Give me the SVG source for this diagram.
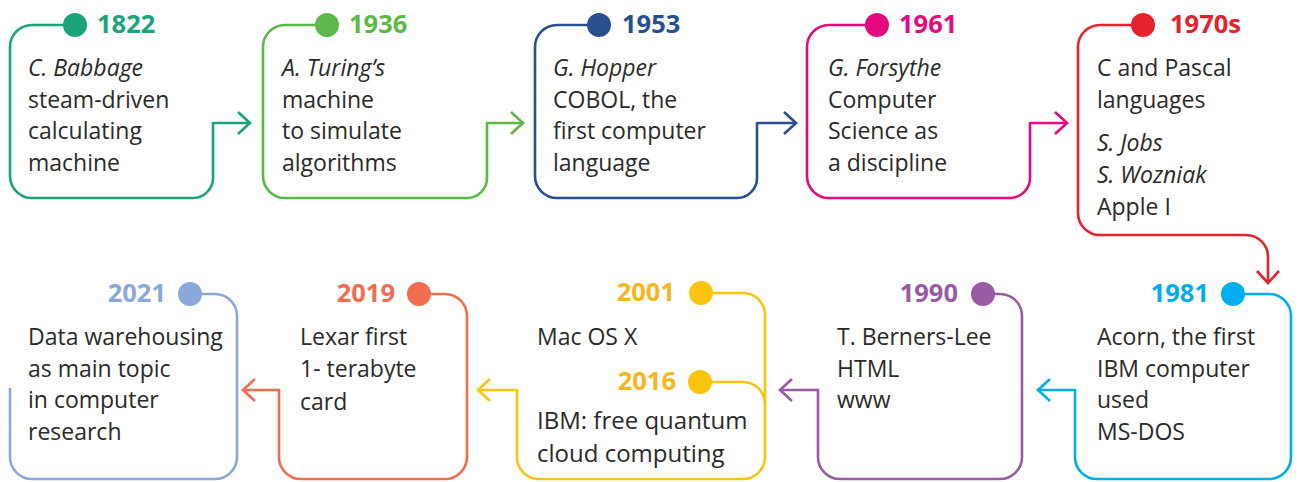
<svg xmlns="http://www.w3.org/2000/svg" width="1298" height="482" viewBox="0 0 1298 482">
<style>
.ln{fill:none;stroke-width:2.6;stroke-linecap:round;stroke-linejoin:round}
.yr{font-family:"Open Sans","Liberation Sans",sans-serif;font-weight:bold;font-size:25.5px}
.tx{font-family:"Open Sans","Liberation Sans",sans-serif;font-size:23px;fill:#2b2a29}
.it{font-style:italic}
</style>
<defs>
<marker id="aG1" viewBox="-14 -13 16 26" refX="0" refY="0" markerWidth="16" markerHeight="26" markerUnits="userSpaceOnUse" orient="auto"><path d="M-12,-11 L0,0 L-12,11" fill="none" stroke="#1ba37a" stroke-width="2.6"/></marker>
<marker id="aG2" viewBox="-14 -13 16 26" refX="0" refY="0" markerWidth="16" markerHeight="26" markerUnits="userSpaceOnUse" orient="auto"><path d="M-12,-11 L0,0 L-12,11" fill="none" stroke="#5cb947" stroke-width="2.6"/></marker>
<marker id="aB" viewBox="-14 -13 16 26" refX="0" refY="0" markerWidth="16" markerHeight="26" markerUnits="userSpaceOnUse" orient="auto"><path d="M-12,-11 L0,0 L-12,11" fill="none" stroke="#284f8f" stroke-width="2.6"/></marker>
<marker id="aM" viewBox="-14 -13 16 26" refX="0" refY="0" markerWidth="16" markerHeight="26" markerUnits="userSpaceOnUse" orient="auto"><path d="M-12,-11 L0,0 L-12,11" fill="none" stroke="#e5097f" stroke-width="2.6"/></marker>
<marker id="aR" viewBox="-14 -13 16 26" refX="0" refY="0" markerWidth="16" markerHeight="26" markerUnits="userSpaceOnUse" orient="auto"><path d="M-12,-11 L0,0 L-12,11" fill="none" stroke="#e4232e" stroke-width="2.6"/></marker>
<marker id="aC" viewBox="-14 -13 16 26" refX="0" refY="0" markerWidth="16" markerHeight="26" markerUnits="userSpaceOnUse" orient="auto"><path d="M-12,-11 L0,0 L-12,11" fill="none" stroke="#00aeef" stroke-width="2.6"/></marker>
<marker id="aP" viewBox="-14 -13 16 26" refX="0" refY="0" markerWidth="16" markerHeight="26" markerUnits="userSpaceOnUse" orient="auto"><path d="M-12,-11 L0,0 L-12,11" fill="none" stroke="#9a5ba5" stroke-width="2.6"/></marker>
<marker id="aY" viewBox="-14 -13 16 26" refX="0" refY="0" markerWidth="16" markerHeight="26" markerUnits="userSpaceOnUse" orient="auto"><path d="M-12,-11 L0,0 L-12,11" fill="none" stroke="#fcc30f" stroke-width="2.6"/></marker>
<marker id="aO" viewBox="-14 -13 16 26" refX="0" refY="0" markerWidth="16" markerHeight="26" markerUnits="userSpaceOnUse" orient="auto"><path d="M-12,-11 L0,0 L-12,11" fill="none" stroke="#f26c4f" stroke-width="2.6"/></marker>
</defs>
<rect width="1298" height="482" fill="#ffffff"/>

<g id="connectors">
<path class="ln" stroke="#1ba37a" marker-end="url(#aG1)" d="M75,25 H32 A22,22 0 0 0 10,47 V176 A22,22 0 0 0 32,198 H193 A20,20 0 0 0 213,178 V123 H250"/>
<path class="ln" stroke="#5cb947" marker-end="url(#aG2)" d="M327,25 H285 A22,22 0 0 0 263,47 V176 A22,22 0 0 0 285,198 H467 A20,20 0 0 0 487,178 V123 H523"/>
<path class="ln" stroke="#284f8f" marker-end="url(#aB)" d="M599,25 H557 A22,22 0 0 0 535,47 V176 A22,22 0 0 0 557,198 H737 A20,20 0 0 0 757,178 V123 H796"/>
<path class="ln" stroke="#e5097f" marker-end="url(#aM)" d="M877,25 H829 A22,22 0 0 0 807,47 V176 A22,22 0 0 0 829,198 H1010 A20,20 0 0 0 1030,178 V123 H1067"/>
<path class="ln" stroke="#e4232e" marker-end="url(#aR)" d="M1143,25 H1100 A22,22 0 0 0 1078,47 V213 A22,22 0 0 0 1100,235 H1246 A22,22 0 0 1 1268,257 V283"/>
<path class="ln" stroke="#00aeef" marker-end="url(#aC)" d="M1233,294 H1269 A22,22 0 0 1 1291,316 V457 A22,22 0 0 1 1269,479 H1097 A22,22 0 0 1 1075,457 V390 H1038"/>
<path class="ln" stroke="#9a5ba5" marker-end="url(#aP)" d="M983,294 H1000 A22,22 0 0 1 1022,316 V457 A22,22 0 0 1 1000,479 H840 A22,22 0 0 1 818,457 V390 H780"/>
<path class="ln" stroke="#fcc30f" marker-end="url(#aY)" d="M701,293 H743 A22,22 0 0 1 765,315 V457 A22,22 0 0 1 743,479 H539 A22,22 0 0 1 517,457 V390 H478"/>
<path class="ln" stroke="#fcc30f" d="M700,382 H743 A22,22 0 0 1 765,404"/>
<path class="ln" stroke="#f26c4f" marker-end="url(#aO)" d="M419,294 H445 A22,22 0 0 1 467,316 V457 A22,22 0 0 1 445,479 H301 A22,22 0 0 1 279,457 V390 H243"/>
<path class="ln" stroke="#8aa8da" d="M190,294 H215 A22,22 0 0 1 237,316 V457 A22,22 0 0 1 215,479 H32 A22,22 0 0 1 10,457 V389"/>
</g>

<g id="n1822">
<circle cx="75" cy="25" r="12" fill="#1ba37a"/>
<text class="yr" x="97" y="33" fill="#1ba37a">1822</text>
<text class="tx" x="28"><tspan class="it" x="28" y="76">C. Babbage</tspan><tspan x="28" y="108">steam-driven</tspan><tspan x="28" y="139">calculating</tspan><tspan x="28" y="171">machine</tspan></text>
</g>
<g id="n1936">
<circle cx="327" cy="25" r="12" fill="#5cb947"/>
<text class="yr" x="349" y="33" fill="#5cb947">1936</text>
<text class="tx"><tspan class="it" x="282" y="76">A. Turing’s</tspan><tspan x="282" y="108">machine</tspan><tspan x="282" y="139">to simulate</tspan><tspan x="282" y="171">algorithms</tspan></text>
</g>
<g id="n1953">
<circle cx="599" cy="25" r="12" fill="#284f8f"/>
<text class="yr" x="622" y="33" fill="#284f8f">1953</text>
<text class="tx"><tspan class="it" x="553" y="76">G. Hopper</tspan><tspan x="553" y="108">COBOL, the</tspan><tspan x="553" y="139">first computer</tspan><tspan x="553" y="171">language</tspan></text>
</g>
<g id="n1961">
<circle cx="877" cy="25" r="12" fill="#e5097f"/>
<text class="yr" x="899" y="33" fill="#e5097f">1961</text>
<text class="tx"><tspan class="it" x="828" y="76">G. Forsythe</tspan><tspan x="828" y="108">Computer</tspan><tspan x="828" y="139">Science as</tspan><tspan x="828" y="171">a discipline</tspan></text>
</g>
<g id="n1970s">
<circle cx="1143" cy="25" r="12" fill="#e4232e"/>
<text class="yr" x="1170" y="33" fill="#e4232e">1970s</text>
<text class="tx"><tspan x="1097" y="76">C and Pascal</tspan><tspan x="1097" y="108">languages</tspan><tspan class="it" x="1097" y="151">S. Jobs</tspan><tspan class="it" x="1097" y="183">S. Wozniak</tspan><tspan x="1097" y="215">Apple I</tspan></text>
</g>
<g id="n1981">
<circle cx="1233" cy="294" r="12" fill="#00aeef"/>
<text class="yr" x="1209" y="302" fill="#00aeef" text-anchor="end">1981</text>
<text class="tx"><tspan x="1097" y="345">Acorn, the first</tspan><tspan x="1097" y="377">IBM computer</tspan><tspan x="1097" y="408">used</tspan><tspan x="1097" y="440">MS-DOS</tspan></text>
</g>
<g id="n1990">
<circle cx="983" cy="294" r="12" fill="#9a5ba5"/>
<text class="yr" x="958" y="302" fill="#9a5ba5" text-anchor="end">1990</text>
<text class="tx"><tspan x="837" y="345">T. Berners-Lee</tspan><tspan x="837" y="377">HTML</tspan><tspan x="837" y="408">www</tspan></text>
</g>
<g id="n2001">
<circle cx="701" cy="293" r="12" fill="#fcc30f"/>
<text class="yr" x="675" y="301" fill="#f9b51d" text-anchor="end">2001</text>
<text class="tx" x="537" y="345">Mac OS X</text>
</g>
<g id="n2016">
<circle cx="700" cy="382" r="12" fill="#fcc30f"/>
<text class="yr" x="676" y="390" fill="#f9b51d" text-anchor="end">2016</text>
<text class="tx" style="font-size:24px"><tspan x="537" y="429">IBM: free quantum</tspan><tspan x="537" y="462">cloud computing</tspan></text>
</g>
<g id="n2019">
<circle cx="419" cy="294" r="12" fill="#f26c4f"/>
<text class="yr" x="395" y="302" fill="#f26c4f" text-anchor="end">2019</text>
<text class="tx"><tspan x="300" y="345">Lexar first</tspan><tspan x="300" y="377">1- terabyte</tspan><tspan x="300" y="410">card</tspan></text>
</g>
<g id="n2021">
<circle cx="190" cy="294" r="12" fill="#8aa8da"/>
<text class="yr" x="166" y="302" fill="#8aa8da" text-anchor="end">2021</text>
<text class="tx"><tspan x="28" y="345">Data warehousing</tspan><tspan x="28" y="377">as main topic</tspan><tspan x="28" y="408">in computer</tspan><tspan x="28" y="440">research</tspan></text>
</g>
</svg>
